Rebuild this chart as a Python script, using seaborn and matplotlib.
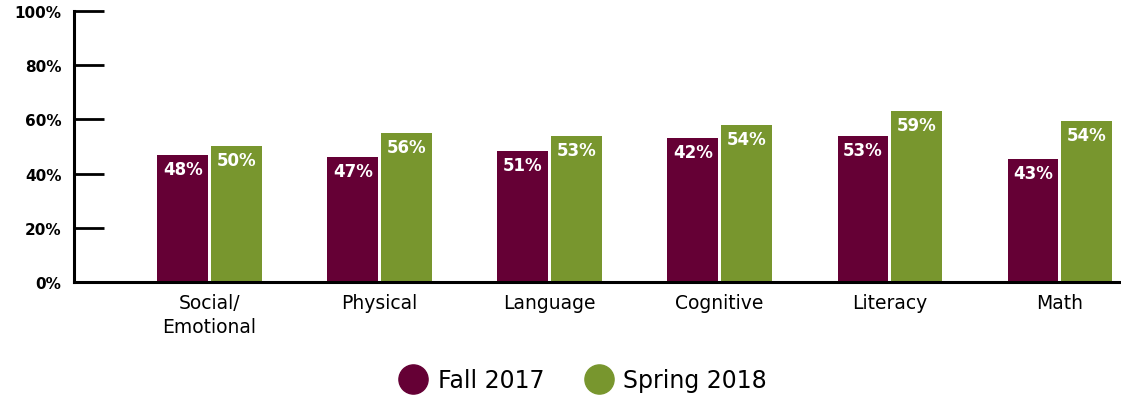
import pandas as pd
import seaborn as sns
import matplotlib.pyplot as plt
from matplotlib.lines import Line2D

categories = ["Social/\nEmotional", "Physical", "Language", "Cognitive", "Literacy", "Math"]
seasons = ["Fall 2017", "Spring 2018"]
# bar heights as drawn (the printed labels do not match the bar heights exactly)
fall_heights = [46.9, 46.2, 48.4, 53.2, 53.9, 45.4]
spring_heights = [50.2, 55.0, 53.9, 58.0, 63.1, 59.5]
fall_labels = ["48%", "47%", "51%", "42%", "53%", "43%"]
spring_labels = ["50%", "56%", "53%", "54%", "59%", "54%"]
y_ticks = [0, 20, 40, 60, 80, 100]

colors = {"Fall 2017": "#650035", "Spring 2018": "#78962E"}

df = pd.DataFrame({
    "category": categories * 2,
    "season": [seasons[0]] * len(categories) + [seasons[1]] * len(categories),
    "value": fall_heights + spring_heights,
})

sns.set_theme(style="white")
plt.rcParams['font.family'] = ['DejaVu Sans']
plt.rcParams['text.color'] = 'black'
plt.rcParams['xtick.color'] = 'black'
plt.rcParams['ytick.color'] = 'black'

fig = plt.figure(figsize=(11.21, 4.02), dpi=100)
ax = fig.add_axes([0.066, 0.296, 0.934, 0.674])

sns.barplot(data=df, x="category", y="value", hue="season", order=categories,
            hue_order=seasons, palette=colors, width=0.63, gap=0.05,
            saturation=1, legend=False, linewidth=0, ax=ax)

for cont, labs in zip(ax.containers, [fall_labels, spring_labels]):
    ax.bar_label(cont, labels=labs, label_type="edge", padding=-16.5,
                 color="white", fontsize=12, fontweight="bold")

ax.set_ylim(0, 100)
ax.set_xlim(-0.797, 5.36)
ax.set_yticks(y_ticks)
ax.set_yticklabels([f"{t}%" for t in y_ticks], fontsize=11, fontweight="bold")
ax.tick_params(axis="y", direction="in", length=21.5, width=2, pad=9, left=True)
ax.tick_params(axis="x", length=0, pad=8, labelsize=13.5)
for lab in ax.get_xticklabels():
    lab.set_linespacing(1.3)
ax.set_xlabel("")
ax.set_ylabel("")

for s in ["top", "right"]:
    ax.spines[s].set_visible(False)
for s in ["left", "bottom"]:
    ax.spines[s].set_linewidth(2.2)
    ax.spines[s].set_color("black")

handles = [Line2D([0], [0], marker="o", linestyle="", markersize=21,
                  markerfacecolor=colors[s], markeredgecolor=colors[s]) for s in seasons]
fig.legend(handles, seasons, loc="center", bbox_to_anchor=(0.52, 0.052), ncol=2,
           frameon=False, fontsize=17, handlelength=1.2, handletextpad=0.45,
           columnspacing=1.7, labelcolor="black")

plt.savefig("out.png", dpi=100)
plt.close("all")
